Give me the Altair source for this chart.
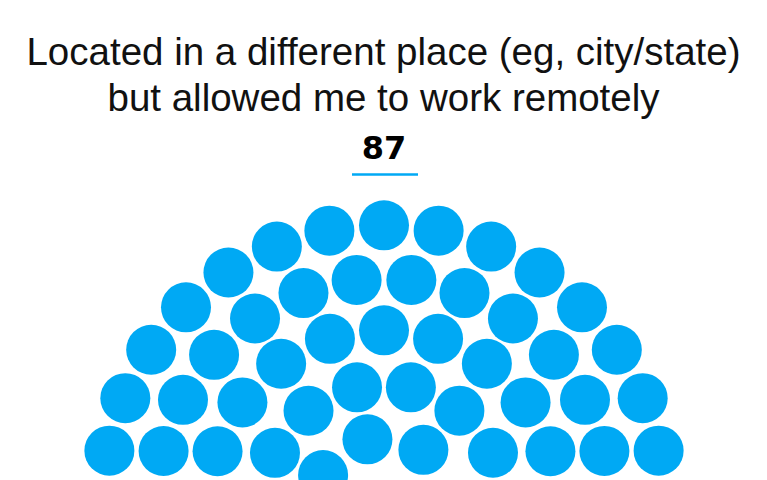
import math
import pandas as pd
import altair as alt

# ---- data -------------------------------------------------------------
title_lines = [
    "Located in a different place (eg, city/state)",
    "but allowed me to work remotely",
]
total_label = "87"

# concentric rings of dots (outer -> inner); 87 dots in total
ring_radius = [280, 227, 175, 121, 68]
ring_seats = [32, 26, 20, 6, 3]
ring_start_deg = [0.0, 6.92, 0.0, -64.3, -63.6]
ring_step_deg = [11.25, 13.846, 18.0, 25.71, 49.5]

DOT_COLOR = "#00A9F4"

rows = []
for ring, (r, n, a0, da) in enumerate(zip(ring_radius, ring_seats, ring_start_deg, ring_step_deg)):
    for i in range(n):
        a = math.radians(a0 + i * da)
        rows.append({"ring": ring, "seat": i, "x": r * math.sin(a), "y": r * math.cos(a)})
dots_df = pd.DataFrame(rows)

W, H = 751, 472

dots = alt.Chart(dots_df).mark_circle(
    size=2500, color=DOT_COLOR, opacity=1, clip=True, strokeWidth=0
).encode(
    x=alt.X("x:Q", scale=alt.Scale(domain=[-376, 375], nice=False, zero=False), axis=None),
    y=alt.Y("y:Q", scale=alt.Scale(domain=[25.3, 497.3], nice=False, zero=False), axis=None),
)

line1 = alt.Chart(pd.DataFrame({"t": [title_lines[0]]})).mark_text(
    font="Liberation Sans", fontSize=38.5, align="center", baseline="alphabetic", color="#111111"
).encode(text="t:N", x=alt.value(375.5), y=alt.value(57))

line2 = alt.Chart(pd.DataFrame({"t": [title_lines[1]]})).mark_text(
    font="Liberation Sans", fontSize=38.5, align="center", baseline="alphabetic", color="#111111"
).encode(text="t:N", x=alt.value(375.5), y=alt.value(103))

number = alt.Chart(pd.DataFrame({"t": [total_label]})).mark_text(
    font="DejaVu Sans", fontSize=32, fontWeight="bold", align="center",
    baseline="alphabetic", color="#000000"
).encode(text="t:N", x=alt.value(376), y=alt.value(150.5))

underline = alt.Chart(pd.DataFrame({"t": [total_label]})).mark_rule(
    color=DOT_COLOR, strokeWidth=2.5
).encode(x=alt.value(344), x2=alt.value(410), y=alt.value(166.5))

chart = alt.layer(dots, line1, line2, number, underline).properties(
    width=W, height=H, padding=0,
    autosize=alt.AutoSizeParams(type="none"),
    background="white",
).configure_view(stroke=None)

chart.save("out.html", embed_options={"renderer": "svg", "actions": False})
